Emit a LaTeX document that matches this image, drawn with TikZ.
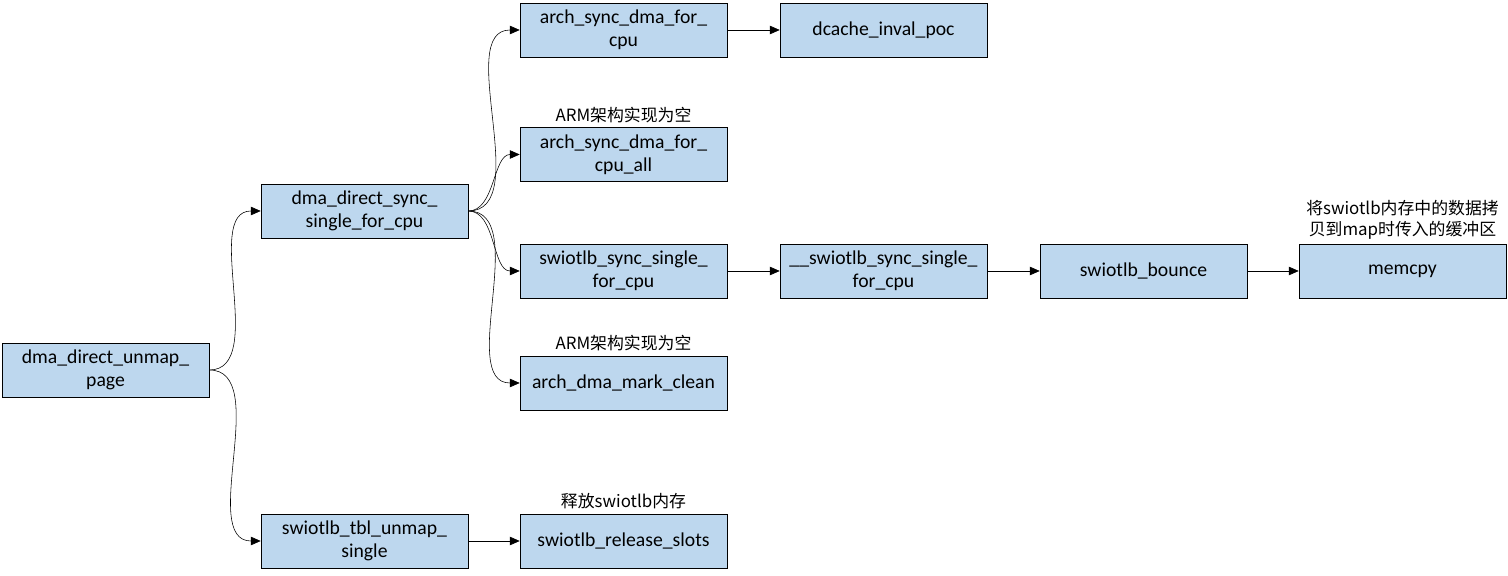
\documentclass[tikz,border=0pt]{standalone}
\usepackage{fontspec}
\setmainfont{Carlito}
\newfontfamily\cjk{Noto Sans CJK SC}
\usetikzlibrary{positioning,arrows.meta}
\definecolor{boxblue}{RGB}{189,215,238}
\tikzset{
  fn/.style={draw=black, fill=boxblue, minimum width=5.175cm, minimum height=1.35cm,
    text width=4.9cm, align=center, inner sep=1pt, font=\fontsize{14}{16.5}\selectfont},
  note/.style={align=center, inner sep=1pt, font=\cjk\fontsize{12}{15}\selectfont},
  call/.style={-{Triangle[length=7pt,width=6pt]}, thin},
  curve/.style={call, out=0, in=180, looseness=0.9}
}
\begin{document}
\begin{tikzpicture}
\useasboundingbox (0,0) rectangle (37.7,14.375);

% A. call tree boxes
\node[fn] (unmap) at (2.6375,5.125) {dma\_direct\_unmap\_\\page};
\node[fn] (sync) at (9.1125,9.1) {dma\_direct\_sync\_\\single\_for\_cpu};
\node[fn] (tblunmap) at (9.1125,0.85) {swiotlb\_tbl\_unmap\_\\single};
\node[fn] (archcpu) at (15.5875,13.625) {arch\_sync\_dma\_for\_\\cpu};
\node[fn] (dcache) at (22.0875,13.625) {dcache\_inval\_poc};
\node[fn] (cpuall) at (15.5875,10.5125) {arch\_sync\_dma\_for\_\\cpu\_all};
\node[fn] (swsync) at (15.5875,7.6) {swiotlb\_sync\_single\_\\for\_cpu};
\node[fn] (swsyncint) at (22.0875,7.6) {\_\_swiotlb\_sync\_single\_\\for\_cpu};
\node[fn] (bounce) at (28.5875,7.6) {swiotlb\_bounce};
\node[fn] (memcpy) at (35.0625,7.6) {memcpy};
\node[fn] (markclean) at (15.5875,4.8) {arch\_dma\_mark\_clean};
\node[fn] (release) at (15.5875,0.85) {swiotlb\_release\_slots};

% B. notes above boxes
\node[note, above=2pt of cpuall] (noteall) {ARM架构实现为空};
\node[note, above=2pt of markclean] (noteclean) {ARM架构实现为空};
\node[note, above=2pt of release] (noterelease) {释放swiotlb内存};
\node[note, above=2pt of memcpy] (notememcpy) {将swiotlb内存中的数据拷\\贝到map时传入的缓冲区};

% C. connectors
\draw[curve] (unmap.east) to (sync.west);
\draw[curve] (unmap.east) to (tblunmap.west);
\draw[curve] (sync.east) to (archcpu.west);
\draw[curve] (sync.east) to (cpuall.west);
\draw[curve] (sync.east) to (swsync.west);
\draw[curve] (sync.east) to (markclean.west);
\draw[call] (archcpu) -- (dcache);
\draw[call] (swsync) -- (swsyncint);
\draw[call] (swsyncint) -- (bounce);
\draw[call] (bounce) -- (memcpy);
\draw[call] (tblunmap) -- (release);
\end{tikzpicture}
\end{document}
